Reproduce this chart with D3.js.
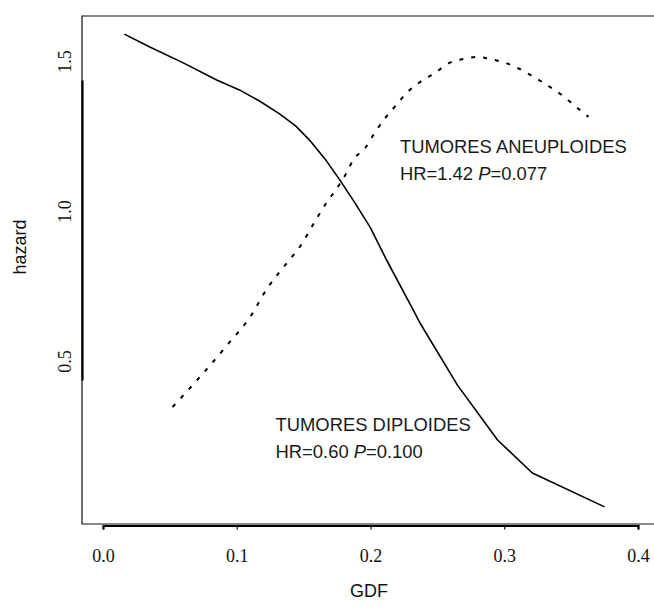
<!DOCTYPE html>
<html>
<head>
<meta charset="utf-8">
<script src="https://cdn.jsdelivr.net/npm/d3@7"></script>
<style>
  html, body { margin: 0; padding: 0; background: #fff; }
  svg { display: block; }
</style>
</head>
<body>
<svg id="chart" width="654" height="613"></svg>
<script>
// Diploid tumours (solid)
const diploidGDF    = [0.016, 0.035, 0.060, 0.085, 0.102, 0.117, 0.132, 0.144, 0.155, 0.166, 0.177, 0.188, 0.200, 0.212, 0.232, 0.237, 0.265, 0.295, 0.321, 0.375];
const diploidHazard = [1.653, 1.610, 1.557, 1.500, 1.467, 1.430, 1.387, 1.347, 1.297, 1.237, 1.167, 1.093, 1.007, 0.900, 0.733, 0.690, 0.483, 0.300, 0.190, 0.077];
// Aneuploid tumours (dashed)
const aneuploidGDF    = [0.052, 0.065, 0.075, 0.093, 0.110, 0.123, 0.138, 0.147, 0.160, 0.167, 0.175, 0.182, 0.187, 0.196, 0.203, 0.211, 0.218, 0.227, 0.236, 0.248, 0.259, 0.269, 0.280, 0.289, 0.301, 0.310, 0.321, 0.332, 0.343, 0.353, 0.363];
const aneuploidHazard = [0.410, 0.473, 0.523, 0.617, 0.710, 0.807, 0.893, 0.943, 1.040, 1.090, 1.140, 1.190, 1.233, 1.273, 1.323, 1.373, 1.410, 1.457, 1.490, 1.523, 1.557, 1.570, 1.577, 1.570, 1.557, 1.540, 1.513, 1.483, 1.450, 1.413, 1.377];

const xTicks = [0.0, 0.1, 0.2, 0.3, 0.4];
const yTicks = [0.5, 1.0, 1.5];
const xTitle = "GDF";
const yTitle = "hazard";
const labels = [
  { x: 0.222, y: 1.258, lines: ["TUMORES ANEUPLOIDES", ["HR=1.42 ", "P", "=0.077"]] },
  { x: 0.129, y: 0.330, lines: ["TUMORES DIPLOIDES", ["HR=0.60 ", "P", "=0.100"]] }
];

const svg = d3.select("#chart");
const x = d3.scaleLinear().domain([0, 0.4]).range([103, 638]);
const y = d3.scaleLinear().domain([0.5, 1.5]).range([380, 80]);

const boxLeft = 82, boxTop = 16, boxBottom = 524;

// frame (right edge cropped off like the reference)
svg.append("path")
  .attr("d", `M${660},${boxTop}H${boxLeft}V${boxBottom}H${660}`)
  .attr("fill", "none").attr("stroke", "#111").attr("stroke-width", 1.2);

// x axis
const gx = svg.append("g").attr("transform", `translate(0,${boxBottom + 1.5})`)
  .call(d3.axisBottom(x).tickValues(xTicks).tickSize(4).tickPadding(20).tickFormat(d3.format(".1f")));
gx.select(".domain").attr("stroke", "#000").attr("stroke-width", 2.2);
gx.selectAll(".tick line").attr("stroke", "#000").attr("stroke-width", 1.2);
gx.selectAll(".tick text")
  .attr("font-family", "'Liberation Serif', 'Times New Roman', serif")
  .attr("font-size", 18).attr("fill", "#111");

// y axis
const gy = svg.append("g").attr("transform", `translate(${boxLeft},0)`)
  .call(d3.axisLeft(y).tickValues(yTicks).tickSize(0).tickFormat(d3.format(".1f")));
gy.select(".domain").attr("stroke", "#000").attr("stroke-width", 2.2);
gy.selectAll(".tick text")
  .attr("x", 0).attr("y", 0).attr("dy", "0.35em")
  .attr("text-anchor", "middle")
  .attr("transform", "translate(-17,-19) rotate(-90)")
  .attr("font-family", "'Liberation Serif', 'Times New Roman', serif")
  .attr("font-size", 18).attr("fill", "#111");

// axis titles
svg.append("text").attr("x", 369).attr("y", 597).attr("text-anchor", "middle")
  .attr("font-family", "'Liberation Sans', Arial, sans-serif").attr("font-size", 18).attr("fill", "#111")
  .text(xTitle);
svg.append("text").attr("transform", "translate(20,247) rotate(-90)").attr("dy", "0.35em")
  .attr("text-anchor", "middle")
  .attr("font-family", "'Liberation Sans', Arial, sans-serif").attr("font-size", 18).attr("fill", "#111")
  .text(yTitle);

// curves
const diploid = diploidGDF.map((g, i) => [g, diploidHazard[i]]);
const aneuploid = aneuploidGDF.map((g, i) => [g, aneuploidHazard[i]]);

svg.append("path").datum(diploid)
  .attr("d", d3.line().x(d => x(d[0])).y(d => y(d[1])).curve(d3.curveLinear))
  .attr("fill", "none").attr("stroke", "#000").attr("stroke-width", 1.6)
  .attr("stroke-linejoin", "round");

svg.append("path").datum(aneuploid)
  .attr("d", d3.line().x(d => x(d[0])).y(d => y(d[1])).curve(d3.curveMonotoneX))
  .attr("fill", "none").attr("stroke", "#000").attr("stroke-width", 2)
  .attr("stroke-dasharray", "4,8");

// annotations
labels.forEach(l => {
  svg.append("text")
    .attr("font-family", "'Liberation Sans', Arial, sans-serif")
    .attr("font-size", 18.4).attr("fill", "#1a1a1a")
    .attr("x", x(l.x)).attr("y", y(l.y))
    .text(l.lines[0]);
  const t2 = svg.append("text")
    .attr("font-family", "'Liberation Sans', Arial, sans-serif")
    .attr("font-size", 18.4).attr("fill", "#1a1a1a")
    .attr("x", x(l.x)).attr("y", y(l.y) + 27);
  t2.append("tspan").text(l.lines[1][0]);
  t2.append("tspan").attr("font-style", "italic").text(l.lines[1][1]);
  t2.append("tspan").text(l.lines[1][2]);
});
</script>
</body>
</html>
